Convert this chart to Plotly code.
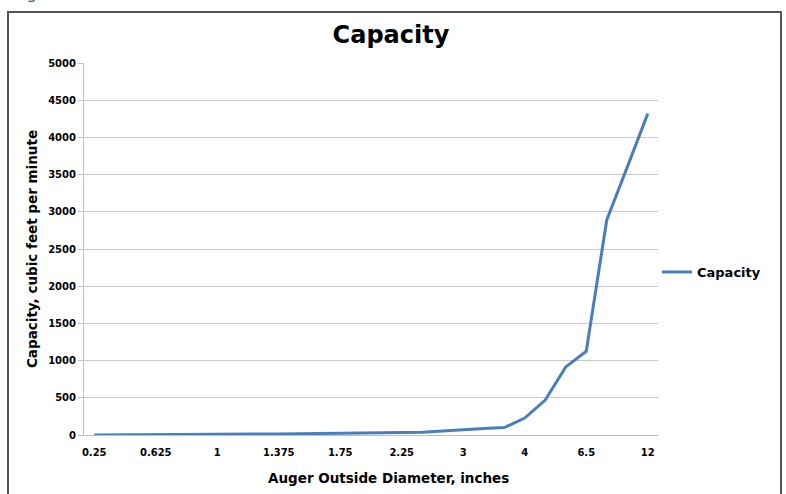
import plotly.graph_objects as go

diameters = ["0.25", "0.375", "0.5", "0.625", "0.75", "0.875", "1", "1.125", "1.25",
             "1.375", "1.5", "1.625", "1.75", "2", "2.125", "2.25", "2.5", "2.75",
             "3", "3.25", "3.5", "4", "5", "6", "6.5", "8", "10", "12"]
capacity = [0.5, 1, 2, 3, 4, 6, 8, 10, 12, 14, 16, 18, 20, 22, 25, 30, 38, 55,
            75, 88, 100, 228, 470, 915, 1125, 2890, 3600, 4320]
tick_labels = ["0.25", "0.625", "1", "1.375", "1.75", "2.25", "3", "4", "6.5", "12"]
y_ticks = list(range(0, 5001, 500))

FONT = "DejaVu Sans, Liberation Sans, Arial, sans-serif"

fig = go.Figure()
fig.add_trace(go.Scatter(
    x=diameters, y=capacity, mode="lines", name="Capacity",
    line=dict(color="#4A7EBB", width=3),
))

L, R, T, B = 84, 658, 63, 435
W, H = 786, 494
pw, ph = R - L, B - T

def px(x):
    return (x - L) / pw

def py(y):
    return (B - y) / ph

fig.update_layout(
    width=W, height=H,
    margin=dict(l=L, r=W - R, t=T, b=H - B, pad=0),
    paper_bgcolor="white", plot_bgcolor="white",
    font=dict(family=FONT, color="#000000"),
    title=dict(text="Capacity", xref="container", x=391 / W, xanchor="center",
               y=1 - 35 / H, yanchor="middle",
               font=dict(size=24, family=FONT, weight="bold", color="#000000")),
    showlegend=True,
    legend=dict(x=px(657), y=py(272), xanchor="left", yanchor="middle",
                font=dict(size=13, family=FONT, weight="bold"), itemwidth=30,
                bgcolor="rgba(0,0,0,0)"),
    xaxis=dict(
        type="category", categoryorder="array", categoryarray=diameters,
        range=[-0.5, len(diameters) - 0.5],
        tickmode="array", tickvals=tick_labels, ticktext=tick_labels,
        tickfont=dict(size=10, family=FONT, weight="bold"),
        showgrid=False, showline=True, linecolor="#BFBFBF", linewidth=1,
        ticks="", ticklen=0, ticklabelstandoff=8,
    ),
    yaxis=dict(
        range=[0, 5000], tickvals=y_ticks,
        tickfont=dict(size=10, family=FONT, weight="bold"),
        showgrid=True, gridcolor="#C8C8C8", gridwidth=1,
        showline=True, linecolor="#BFBFBF", linewidth=1,
        ticks="outside", ticklen=5, tickcolor="#BFBFBF",
        zeroline=False,
        title=dict(text="Capacity, cubic feet per minute", standoff=7,
                   font=dict(size=13.5, family=FONT, weight="bold")),
    ),
)

fig.add_annotation(text="Auger Outside Diameter, inches", xref="paper", yref="paper",
                   x=px(388), y=py(478), xanchor="center", yanchor="middle", showarrow=False,
                   font=dict(size=13.5, family=FONT, weight="bold", color="#000000"))

fig.add_shape(type="rect", xref="paper", yref="paper",
              x0=px(8), x1=px(781), y0=py(510), y1=py(12),
              line=dict(color="#555555", width=2), fillcolor="rgba(0,0,0,0)", layer="below")

fig.add_annotation(text="Figure 6", xref="paper", yref="paper", x=px(12), y=py(5),
                   xanchor="left", yanchor="bottom", showarrow=False,
                   font=dict(size=16, family=FONT, color="#3A4FA0"))

fig.write_html("out.html", config={"displayModeBar": False},
               post_script="document.body.style.margin='0';")
